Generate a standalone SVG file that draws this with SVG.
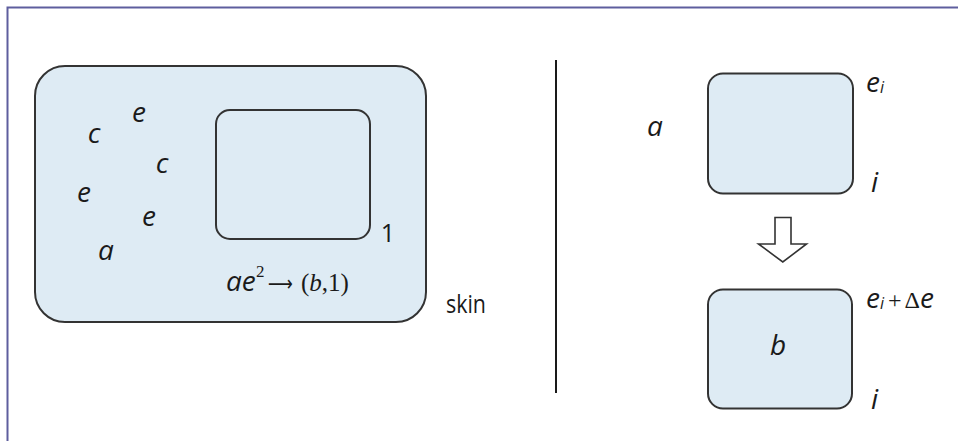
<svg xmlns="http://www.w3.org/2000/svg" width="958" height="441" viewBox="0 0 958 441">
  <style>
    .frame { fill: none; stroke: #5e5e9e; stroke-width: 2; }
    .cell { fill: #deebf4; stroke: #333333; stroke-width: 2; }
    .divider { stroke: #1a1a1a; stroke-width: 2; }
    .var { font-family: "Open Sans", "Liberation Sans", sans-serif; font-style: italic; font-size: 28px; fill: #1a1a1a; }
    .lbl { font-family: "Open Sans", "Liberation Sans", sans-serif; font-size: 25px; fill: #1a1a1a; }
    .math { font-family: "Liberation Serif", "DejaVu Serif", serif; fill: #1a1a1a; }
    .arrowglyph { font-family: "DejaVu Sans", sans-serif; fill: #1a1a1a; }
    .blockarrow { fill: #ffffff; stroke: #333333; stroke-width: 1.6; stroke-linejoin: miter; }
  </style>

  <!-- page frame -->
  <path class="frame" d="M7.5,441 V7.5 H958"/>

  <!-- left panel: skin membrane with inner membrane 1 -->
  <g id="skin">
    <rect class="cell" x="35" y="66" width="391" height="256" rx="30" ry="30"/>
    <text class="lbl" x="446" y="313" textLength="40" lengthAdjust="spacingAndGlyphs">skin</text>
  </g>

  <g id="objects">
    <text class="var" x="139" y="121.5" text-anchor="middle">e</text>
    <text class="var" x="94" y="142.5" text-anchor="middle">c</text>
    <text class="var" x="162" y="172.5" text-anchor="middle">c</text>
    <text class="var" x="84" y="201.5" text-anchor="middle">e</text>
    <text class="var" x="149" y="226" text-anchor="middle">e</text>
    <text class="var" x="106" y="260" text-anchor="middle">a</text>
  </g>

  <g id="membrane1">
    <rect class="cell" x="216" y="110" width="154" height="129" rx="14" ry="14"/>
    <text class="lbl" x="388" y="242" text-anchor="middle">1</text>
  </g>

  <!-- evolution rule -->
  <g id="rule">
    <text class="var" x="226" y="291">ae</text>
    <text class="math" x="256" y="277" style="font-size:17px">2</text>
    <text class="arrowglyph" x="268" y="291" style="font-size:22px" textLength="25" lengthAdjust="spacingAndGlyphs">⟶</text>
    <text class="math" x="301" y="291" style="font-size:25px">(<tspan style="font-style:italic">b</tspan>,1)</text>
  </g>

  <!-- divider and transition arrow -->
  <g id="connectors">
    <line class="divider" x1="556" y1="60" x2="556" y2="393"/>
    <path class="blockarrow" d="M775,217.5 H791 V244 H806.5 L782.8,262 L758.5,244 H775 Z"/>
  </g>

  <!-- right panel: before -->
  <g id="before">
    <rect class="cell" x="708" y="73.5" width="145" height="120" rx="15" ry="15"/>
    <text class="var" x="655" y="136" text-anchor="middle">a</text>
    <text class="var" x="866" y="92">e<tspan dy="1" style="font-size:16px">i</tspan></text>
    <text class="var" x="871" y="191.5">i</text>
  </g>

  <!-- right panel: after -->
  <g id="after">
    <rect class="cell" x="708" y="289.5" width="144" height="119" rx="15" ry="15"/>
    <text class="var" x="778" y="355" text-anchor="middle">b</text>
    <text class="var" x="866" y="308">e<tspan dy="1" style="font-size:16px">i</tspan><tspan dx="4" dy="-1" style="font-family:'Liberation Serif',serif;font-style:normal;font-size:24px">+</tspan><tspan dx="3" style="font-family:'Liberation Serif',serif;font-style:normal;font-size:24px">Δ</tspan>e</text>
    <text class="var" x="871" y="409">i</text>
  </g>
</svg>
